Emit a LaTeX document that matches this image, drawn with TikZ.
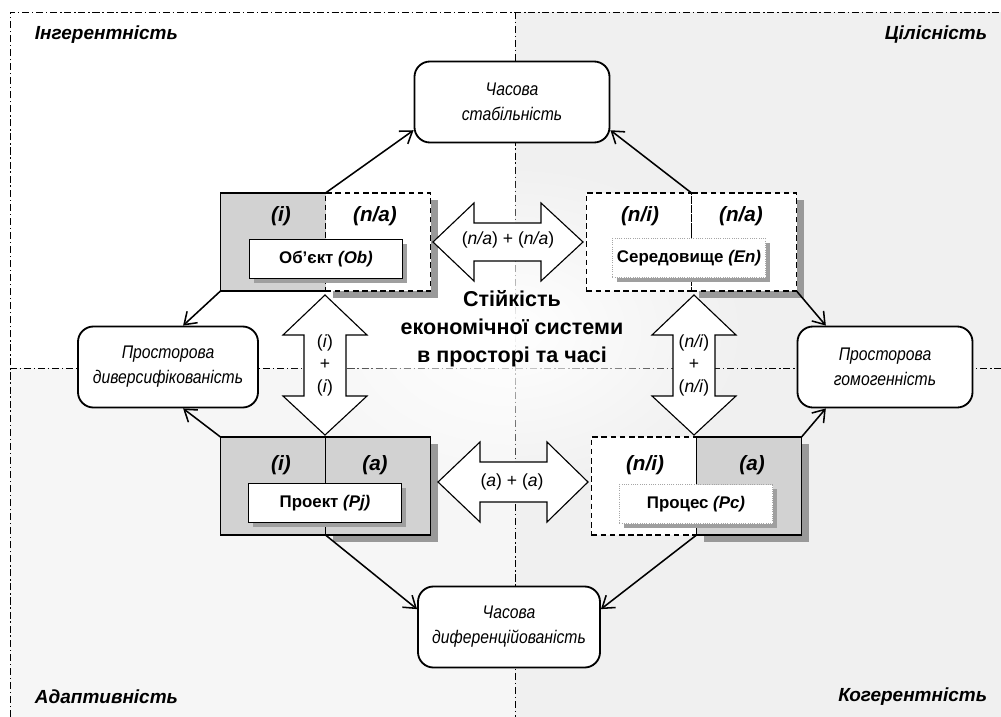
\documentclass[tikz,border=0pt]{standalone}
\usepackage{fontspec}
\setmainfont{Liberation Sans}
\newfontfamily\narrowsans{Liberation Sans}[FakeStretch=0.86]
\usetikzlibrary{arrows.meta,positioning,fadings,shadows}

\tikzfading[name=glowfade,inner color=transparent!0,outer color=transparent!100]

\tikzset{
  zone/.style={line width=0.7pt,dash pattern=on 5pt off 2pt on 1pt off 2pt},
  goal/.style={draw,fill=white,line width=1.3pt,rounded corners=11pt,align=center,
               minimum height=2.025cm,inner sep=0pt,
               font=\narrowsans\itshape\fontsize{13}{17.8}\selectfont},
  half/.style={draw,line width=1pt,minimum width=2.625cm,minimum height=2.45cm,
               inner sep=0pt,outer sep=0pt},
  grayhalf/.style={half,fill=gray!35},
  openhalf/.style={half,fill=white,dash pattern=on 4pt off 2.5pt},
  boxshadow/.style={drop shadow={shadow xshift=5pt,shadow yshift=-5pt,fill=gray!80,opacity=1}},
  tag/.style={draw,fill=white,line width=0.6pt,minimum width=3.825cm,minimum height=0.975cm,
              inner sep=0pt,font=\bfseries\fontsize{12}{13}\selectfont,
              drop shadow={shadow xshift=3.5pt,shadow yshift=-3.5pt,fill=gray!75,opacity=1}},
  dottag/.style={tag,draw=gray!70,densely dotted},
  sign/.style={font=\bfseries\itshape\fontsize{14.7}{17}\selectfont},
  corner/.style={font=\bfseries\itshape\fontsize{13.5}{16}\selectfont},
  core/.style={align=center,font=\bfseries\fontsize{15.3}{20}\selectfont},
  pairtext/.style={align=center,font=\fontsize{12.5}{16}\selectfont},
  blockarrow/.style={draw,fill=white,line width=0.8pt},
  link/.style={-{Straight Barb[length=8pt,width=11pt]},line width=1.1pt},
}

\begin{document}
\begin{tikzpicture}[x=0.025cm,y=-0.025cm]
  \useasboundingbox (0,0) rectangle (1001,717);

  \fill[white]   (0,0) rectangle (1001,717);                 % page
  \fill[gray!12] (515,12) rectangle (1001,368);              % upper right field
  \fill[gray!7]  (10,368) rectangle (515,717);               % lower left field
  \fill[gray!12] (515,368) rectangle (1001,717);             % lower right field

  \draw[zone] (10,717) -- (10,12) -- (1001,12);              % frame
  \draw[zone] (515,12) -- (515,717);                         % time axis
  \draw[zone] (10,368) -- (1001,368);                        % space axis

  \fill[white,path fading=glowfade] (512,330) ellipse (240 and 170); % light in the middle

  \node[corner,anchor=west] (inh) at (30,35)   {Інгерентність};
  \node[corner,anchor=east] (int) at (992,35)  {Цілісність};
  \node[corner,anchor=west] (ada) at (30,697)  {Адаптивність};
  \node[corner,anchor=east] (coh) at (992,697) {Когерентність};

  \node[core] (core) at (512,329) {Стійкість\\економічної системи\\в просторі та часі};

  % goals
  \node[goal,minimum width=4.875cm]  (stab)   at (512,102) {Часова\\стабільність};
  \node[goal,minimum width=4.5cm]    (divers) at (168,367) {Просторова\\диверсифікованість};
  \node[goal,minimum width=4.375cm]  (homog)  at (885,367) {Просторова\\гомогенність};
  \node[goal,minimum width=4.55cm]   (diff)   at (509,627) {Часова\\диференційованість};

  % boxes
  \node[grayhalf,draw=none] (ob-i) at (273,242) {};
  \node[openhalf,boxshadow,right=0pt of ob-i] (ob-na) {};
  \draw[line width=1pt] (ob-i.north east) -- (ob-i.north west) -- (ob-i.south west) -- (ob-i.south east);
  \node[openhalf] (en-ni) at (639,242) {};
  \node[openhalf,boxshadow,right=0pt of en-ni] (en-na) {};
  \node[grayhalf] (pj-i) at (273,486) {};
  \node[grayhalf,boxshadow,right=0pt of pj-i] (pj-a) {};
  \node[openhalf] (pc-ni) at (644,486) {};
  \node[grayhalf,boxshadow,right=0pt of pc-ni] (pc-a) {};

  \node[sign] (ob-i-s)  at (281,216) {(i)};
  \node[sign] (ob-na-s) at (375,216) {(n/a)};
  \node[sign] (en-ni-s) at (640,216) {(n/i)};
  \node[sign] (en-na-s) at (741,216) {(n/a)};
  \node[sign] (pj-i-s)  at (281,465) {(i)};
  \node[sign] (pj-a-s)  at (375,465) {(a)};
  \node[sign] (pc-ni-s) at (645,465) {(n/i)};
  \node[sign] (pc-a-s)  at (752,465) {(a)};

  \node[tag]    (ob) at (326,259) {Об’єкт \textit{(Ob)}};
  \node[dottag] (en) at (689,258) {Середовище \textit{(En)}};
  \node[tag]    (pj) at (325,503) {Проект \textit{(Pj)}};
  \node[dottag] (pc) at (696,504) {Процес \textit{(Pc)}};

  % pair arrows
  \draw[blockarrow] (433,242) -- (474,203) -- (474,223) -- (541,223) -- (541,203) -- (583,242)
        -- (541,281) -- (541,261) -- (474,261) -- (474,281) -- cycle;        % Ob - En
  \draw[blockarrow] (438,482) -- (480,442) -- (480,462) -- (547,462) -- (547,442) -- (588,482)
        -- (547,522) -- (547,502) -- (480,502) -- (480,522) -- cycle;        % Pj - Pc
  \draw[blockarrow] (325,295) -- (367,335) -- (346,335) -- (346,396) -- (367,396) -- (325,435)
        -- (283,396) -- (304,396) -- (304,335) -- (283,335) -- cycle;        % Ob - Pj
  \draw[blockarrow] (694,295) -- (736,335) -- (715,335) -- (715,396) -- (736,396) -- (694,435)
        -- (652,396) -- (673,396) -- (673,335) -- (652,335) -- cycle;        % En - Pc

  \node[pairtext] (ob-en) at (508,240) {(\textit{n/a}) + (\textit{n/a})};
  \node[pairtext] (pj-pc) at (512,482) {(\textit{a}) + (\textit{a})};
  \node[pairtext] (ob-pj) at (325,365) {(\textit{i})\\+\\(\textit{i})};
  \node[pairtext] (en-pc) at (694,365) {(\textit{n/i})\\+\\(\textit{n/i})};

  % links to the goals
  \draw[link] (ob-i.north east)  -- (stab.196);
  \draw[link] (en-ni.north east) -- (stab.344);
  \draw[link] (ob-i.south west)  -- (divers.70);
  \draw[link] (en-na.south east) -- (homog.145);
  \draw[link] (pj-i.north west)  -- (divers.290);
  \draw[link] (pc-a.north east)  -- (homog.215);
  \draw[link] (pj-i.south east)  -- (diff.169);
  \draw[link] (pc-ni.south east) -- (diff.11);
\end{tikzpicture}
\end{document}
